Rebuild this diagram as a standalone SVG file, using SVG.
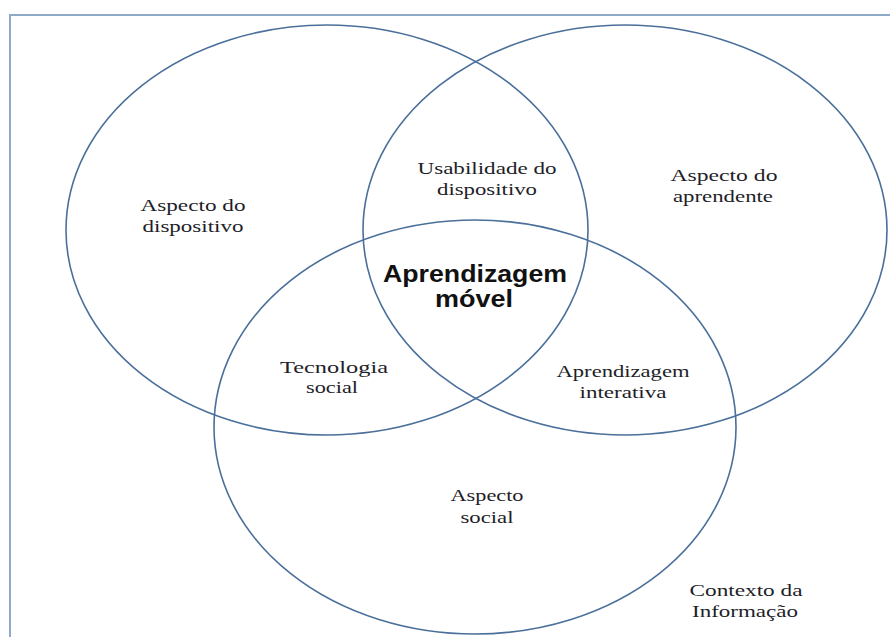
<svg xmlns="http://www.w3.org/2000/svg" width="890" height="637" viewBox="0 0 890 637">
  <style>
    .frame { fill: none; stroke: #8eaac8; stroke-width: 2; }
    .set { fill: none; stroke: #4a6f9a; stroke-width: 1.6; }
    .lbl { font-family: "Liberation Serif", "Times New Roman", serif; font-size: 17.5px; fill: #1e1e28; text-anchor: middle; }
    .core { font-family: "Liberation Sans", Arial, sans-serif; font-size: 24px; font-weight: bold; fill: #111; text-anchor: middle; }
  </style>
  <rect width="890" height="637" fill="#ffffff"/>
  <rect class="frame" x="10" y="15" width="900" height="700"/>

  <g id="circle-dispositivo">
    <ellipse class="set" cx="327" cy="230" rx="261" ry="205"/>
    <text class="lbl" x="193" y="211" textLength="105" lengthAdjust="spacingAndGlyphs">Aspecto do</text>
    <text class="lbl" x="193" y="232" textLength="101" lengthAdjust="spacingAndGlyphs">dispositivo</text>
  </g>

  <g id="circle-aprendente">
    <ellipse class="set" cx="625" cy="230" rx="262" ry="205"/>
    <text class="lbl" x="724" y="181" textLength="107" lengthAdjust="spacingAndGlyphs">Aspecto do</text>
    <text class="lbl" x="723" y="202" textLength="100" lengthAdjust="spacingAndGlyphs">aprendente</text>
  </g>

  <g id="circle-social">
    <ellipse class="set" cx="475" cy="427" rx="261" ry="207"/>
    <text class="lbl" x="487" y="501" textLength="73" lengthAdjust="spacingAndGlyphs">Aspecto</text>
    <text class="lbl" x="487" y="523" textLength="53" lengthAdjust="spacingAndGlyphs">social</text>
  </g>

  <g id="usabilidade">
    <text class="lbl" x="487" y="174" textLength="139" lengthAdjust="spacingAndGlyphs">Usabilidade do</text>
    <text class="lbl" x="487" y="195" textLength="100" lengthAdjust="spacingAndGlyphs">dispositivo</text>
  </g>

  <g id="tecnologia-social">
    <text class="lbl" x="334" y="373" textLength="108" lengthAdjust="spacingAndGlyphs">Tecnologia</text>
    <text class="lbl" x="332" y="393" textLength="52" lengthAdjust="spacingAndGlyphs">social</text>
  </g>

  <g id="aprendizagem-interativa">
    <text class="lbl" x="623" y="377" textLength="133" lengthAdjust="spacingAndGlyphs">Aprendizagem</text>
    <text class="lbl" x="623" y="398" textLength="87" lengthAdjust="spacingAndGlyphs">interativa</text>
  </g>

  <g id="aprendizagem-movel">
    <text class="core" x="475" y="282" textLength="184" lengthAdjust="spacingAndGlyphs">Aprendizagem</text>
    <text class="core" x="474" y="307" textLength="78" lengthAdjust="spacingAndGlyphs">móvel</text>
  </g>

  <g id="contexto">
    <text class="lbl" x="746" y="596" textLength="113" lengthAdjust="spacingAndGlyphs">Contexto da</text>
    <text class="lbl" x="745" y="617" textLength="106" lengthAdjust="spacingAndGlyphs">Informação</text>
  </g>

  <g id="connectors"></g>
</svg>
